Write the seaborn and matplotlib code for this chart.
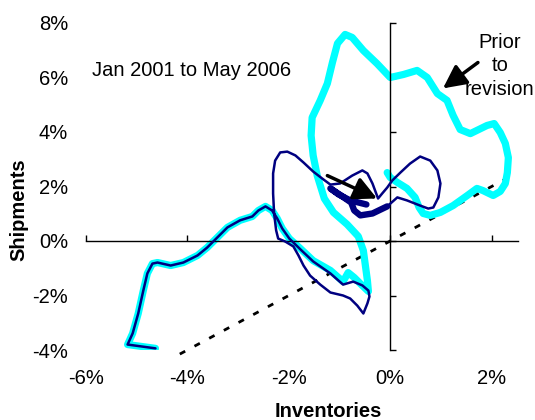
import matplotlib
matplotlib.use("Agg")
import matplotlib.pyplot as plt
import pandas as pd
import seaborn as sns

# ---------------- data (percent) ----------------
# Prior to revision (cyan): inventories (x) and shipments (y), Jan 2001 -> May 2006
prior_inv = [-4.63, -5.18, -5.08, -4.97, -4.87, -4.79, -4.69, -4.59, -4.33, -4.08,
             -3.80, -3.61, -3.41, -3.21, -2.96, -2.72, -2.60, -2.46,
             -2.33, -2.23, -2.13, -1.99, -1.77, -1.52, -1.18, -0.93, -0.83, -0.71,
             -0.57, -0.43, -0.45, -0.49, -0.53, -0.63, -0.85, -1.12, -1.30, -1.44,
             -1.52, -1.56, -1.54, -1.38, -1.24, -1.14, -1.04, -0.89, -0.75, -0.53,
             -0.26, 0.00, 0.26, 0.53, 0.73, 0.93, 1.12, 1.24, 1.38, 1.58,
             1.91, 2.05, 2.17, 2.27, 2.33, 2.31, 2.27, 2.17, 2.03, 1.83,
             1.71, 1.52, 1.24, 0.99, 0.79, 0.65, 0.57, 0.49, 0.33, 0.14,
             0.00, -0.06]
prior_ship = [-3.94, -3.80, -3.39, -2.66, -1.82, -1.19, -0.83, -0.79, -0.90, -0.79,
              -0.53, -0.24, 0.13, 0.50, 0.76, 0.90, 1.12, 1.27,
              1.12, 0.83, 0.46, 0.09, -0.28, -0.72, -1.08, -1.49, -1.16, -1.34,
              -1.60, -1.85, -1.45, -0.90, -0.35, 0.17, 0.61, 1.05, 1.56, 2.40,
              3.14, 3.87, 4.53, 5.16, 5.78, 6.55, 7.25, 7.58, 7.47, 6.99,
              6.51, 6.00, 6.11, 6.26, 6.00, 5.41, 5.16, 4.61, 4.09, 3.94,
              4.24, 4.31, 3.98, 3.58, 3.06, 2.51, 2.11, 1.82, 1.67, 1.85,
              1.93, 1.67, 1.30, 1.05, 0.94, 1.01, 1.23, 1.60, 1.93, 2.15,
              2.33, 2.51]

# Revised (navy)
revised_inv = [-4.63, -5.18, -5.08, -4.97, -4.87, -4.79, -4.69, -4.59, -4.33, -4.08,
               -3.80, -3.61, -3.41, -3.21, -2.96, -2.72, -2.60, -2.46,
               -2.33, -2.23, -2.13, -1.99, -1.77, -1.52, -1.18, -0.93, -0.73, -0.55,
               -0.43, -0.41, -0.45, -0.53, -0.65, -0.79, -0.93, -1.18, -1.38, -1.58,
               -1.71, -1.81, -1.91, -2.07, -2.21, -2.25, -2.29, -2.31, -2.31, -2.27,
               -2.17, -2.03, -1.87, -1.71, -1.52, -1.34, -1.18, -0.99, -0.75, -0.55,
               -0.45, -0.35, -0.24, -0.16, -0.06, 0.04, 0.20, 0.39, 0.59, 0.79,
               0.93, 0.99, 0.95, 0.85, 0.75, 0.59, 0.33, 0.14,
               -0.06, -0.35, -0.59, -0.71, -0.77, -0.97, -1.18, -1.02, -0.79, -0.47]
revised_ship = [-3.94, -3.80, -3.39, -2.66, -1.82, -1.19, -0.83, -0.79, -0.90, -0.79,
                -0.53, -0.24, 0.13, 0.50, 0.76, 0.90, 1.12, 1.27,
                1.12, 0.83, 0.46, 0.09, -0.31, -0.75, -1.19, -1.60, -1.49, -1.63,
                -1.82, -2.04, -2.29, -2.66, -2.37, -2.11, -2.00, -1.89, -1.60, -1.27,
                -0.90, -0.53, -0.20, -0.02, 0.09, 0.39, 1.01, 1.74, 2.48, 2.95,
                3.25, 3.28, 3.14, 2.88, 2.55, 2.29, 2.07, 2.11, 2.40, 2.59,
                2.48, 2.11, 1.56, 1.74, 1.96, 2.22, 2.51, 2.84, 3.10, 2.95,
                2.59, 2.11, 1.60, 1.23, 1.19, 1.30, 1.49, 1.60,
                1.27, 1.01, 0.94, 1.12, 1.41, 1.67, 1.93, 1.71, 1.49, 1.34]
n_recent = 10  # most recent revised points, drawn with a heavy line

# 45-degree reference line
ref_inv = [-4.15, 2.5]
ref_ship = [-4.15, 2.5]

x_ticks = [-6, -4, -2, 0, 2]
x_labels = ["-6%", "-4%", "-2%", "0%", "2%"]
y_ticks = [-4, -2, 0, 2, 4, 6, 8]
y_labels = ["-4%", "-2%", "0%", "2%", "4%", "6%", "8%"]

# ---------------- plot ----------------
sns.set_style("white")
plt.rcParams["font.family"] = ["Liberation Sans", "DejaVu Sans"]
plt.rcParams["text.color"] = "black"
plt.rcParams["axes.labelcolor"] = "black"
plt.rcParams["xtick.color"] = "black"
plt.rcParams["ytick.color"] = "black"
FS = 14.5

fig = plt.figure(figsize=(5.35, 4.2), dpi=100)
ax = fig.add_axes([86 / 535, 70 / 420, 432 / 535, 327 / 420])

prior = pd.DataFrame({"inv": prior_inv, "ship": prior_ship})
revised = pd.DataFrame({"inv": revised_inv, "ship": revised_ship})
rev_old = revised.iloc[: len(revised) - n_recent + 1]
rev_new = revised.iloc[len(revised) - n_recent:]

sns.lineplot(x=ref_inv, y=ref_ship, ax=ax, color="black", linewidth=2.0,
             linestyle=(0, (2.2, 3.8)), clip_on=False, zorder=1)
sns.lineplot(data=prior, x="inv", y="ship", sort=False, estimator=None, ax=ax,
             color="#00FFFF", linewidth=5.2, solid_capstyle="round",
             solid_joinstyle="round", zorder=2)
sns.lineplot(data=rev_old, x="inv", y="ship", sort=False, estimator=None, ax=ax,
             color="#000080", linewidth=1.8, solid_joinstyle="round", zorder=3)
sns.lineplot(data=rev_new, x="inv", y="ship", sort=False, estimator=None, ax=ax,
             color="#000080", linewidth=4.6, solid_capstyle="round",
             solid_joinstyle="round", zorder=3)

ax.set_xlim(-6, 2.52)
ax.set_ylim(-4, 8)

# axes crossing at zero, ticks pointing inward, no labels there
for s in ("top", "right"):
    ax.spines[s].set_visible(False)
for s in ("left", "bottom"):
    ax.spines[s].set_position(("data", 0))
    ax.spines[s].set_color("black")
    ax.spines[s].set_linewidth(1.0)
ax.set_xticks(x_ticks)
ax.set_yticks(y_ticks)
ax.tick_params(bottom=True, left=True, direction="in", length=4, width=1,
               color="black", labelbottom=False, labelleft=False)
ax.grid(False)

# tick labels at the outer edges
secx = ax.secondary_xaxis("bottom")
secx.set_xticks(x_ticks, labels=x_labels)
secx.tick_params(length=0, pad=14, labelsize=FS, labelcolor="black")
secy = ax.secondary_yaxis("left")
secy.set_yticks(y_ticks, labels=y_labels)
secy.tick_params(length=0, pad=13, labelsize=FS, labelcolor="black")
for sa in (secx, secy):
    for sp in sa.spines.values():
        sp.set_visible(False)

ax.set_xlabel("Inventories", fontsize=FS, fontweight="bold", color="black")
ax.set_ylabel("Shipments", fontsize=FS, fontweight="bold", color="black")
ax.xaxis.set_label_coords(328 / 535, 3 / 420, transform=fig.transFigure)
ax.xaxis.label.set_verticalalignment("baseline")
ax.yaxis.set_label_coords(19 / 535, 210 / 420, transform=fig.transFigure)
ax.yaxis.label.set_verticalalignment("center")

# annotations
ax.text(-5.89, 6.26, "Jan 2001 to May 2006", ha="left", va="center",
        fontsize=FS, color="black")
ax.text(2.16, 6.44, "Prior\nto\nrevision", ha="center", va="center",
        fontsize=FS, linespacing=1.3, color="black")
arrow = dict(arrowstyle="-|>,head_length=0.7,head_width=0.35", color="black",
             lw=2.5, mutation_scale=20, shrinkA=0, shrinkB=0)
ax.annotate("", xy=(1.04, 5.60), xytext=(1.73, 6.55), arrowprops=arrow)
ax.annotate("", xy=(-0.26, 1.56), xytext=(-1.24, 2.40), arrowprops=arrow)

fig.savefig("out.png", dpi=100)
